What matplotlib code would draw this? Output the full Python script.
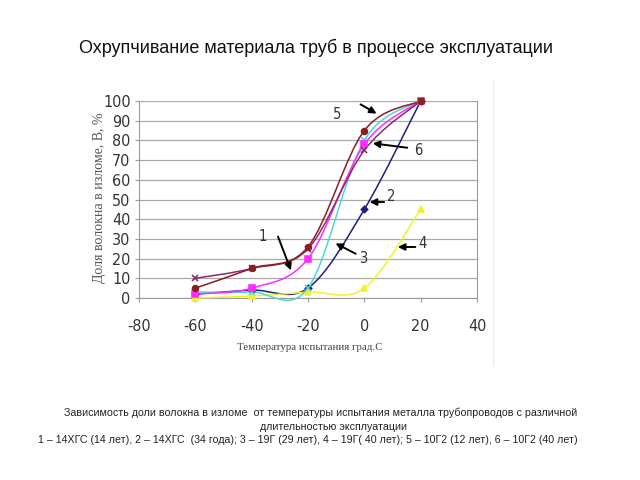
import matplotlib
matplotlib.use("Agg")
import matplotlib.pyplot as plt
from matplotlib.path import Path
from matplotlib.patches import PathPatch

plt.rcParams['axes.unicode_minus'] = False

temps = [-60, -40, -20, 0, 20]
s1 = [2, 5, 20, 78, 100]     # 14ХГС 14 лет, magenta
s2 = [2, 4, 5, 45, 100]      # 14ХГС 34 года, navy
s3 = [3, 3, 5, 80, 100]      # 19Г 29 лет, cyan
s4 = [0, 1, 3, 5, 45]        # 19Г 40 лет, yellow
s5 = [5, 15, 26, 85, 100]    # 10Г2 12 лет, dark red
s6 = [10, 15, 25, 75, 100]   # 10Г2 40 лет, purple

series = [
    (s2, '#1f1f7a', 'D', 3.2),
    (s4, '#f2f22a', '^', 4.2),
    (s3, '#4fd6d6', 'x', 4.2),
    (s1, '#ff2cff', 's', 4.2),
    (s6, '#8a2a6a', 'x', 4.6),
    (s5, '#8a1f1f', 'o', 4.2),
]

fig = plt.figure(figsize=(6.4, 4.8), dpi=100)
ax = fig.add_axes([139/640, 1-298/480, 338/640, 197/480])

def smooth_path(xs, ys):
    pts = list(zip(xs, ys))
    n = len(pts)
    verts = [pts[0]]
    codes = [Path.MOVETO]
    for i in range(n-1):
        p0 = pts[i-1] if i > 0 else pts[i]
        p1 = pts[i]
        p2 = pts[i+1]
        p3 = pts[i+2] if i+2 < n else pts[i+1]
        c1 = (p1[0] + (p2[0]-p0[0])/6, p1[1] + (p2[1]-p0[1])/6)
        c2 = (p2[0] - (p3[0]-p1[0])/6, p2[1] - (p3[1]-p1[1])/6)
        verts += [c1, c2, p2]
        codes += [Path.CURVE4]*3
    return Path(verts, codes)

for ys, col, mk, ms in series:
    ax.add_patch(PathPatch(smooth_path(temps, ys), facecolor='none', edgecolor=col, lw=1.1, zorder=3, clip_on=False))
    ax.plot(temps, ys, linestyle='none', marker=mk, color=col, ms=ms, mew=1.2, zorder=4, clip_on=False)

ax.set_xlim(-80, 40)
ax.set_ylim(0, 100)
ax.set_xticks(range(-80, 41, 20))
ax.set_yticks(range(0, 101, 10))
ax.yaxis.grid(True, color='#a8a8a8', lw=0.9)
ax.set_axisbelow(True)
for sp in ['left', 'bottom', 'right']:
    ax.spines[sp].set_color('#9a9a9a')
ax.spines['top'].set_visible(False)
ax.tick_params(axis='both', colors='#9a9a9a', length=3, width=0.8, labelcolor='#333333', labelsize=11.5)
for lab in ax.get_xticklabels() + ax.get_yticklabels():
    lab.set_fontfamily('DejaVu Sans')
    lab.set_fontstretch('condensed')
ax.tick_params(axis='x', pad=12)
ax.tick_params(axis='y', pad=3)

ax.set_ylabel('Доля волокна в изломе, В, %', family='Liberation Serif', fontsize=10, color='#555555', va='center')
ax.yaxis.set_label_coords((100-139)/338, (298-198)/197)
ax.set_xlabel('Температура испытания град.С', family='Liberation Serif', fontsize=7.8, color='#444444', va='center')
ax.xaxis.set_label_coords((310-139)/338, (298-347)/197)

# annotations
labels = [
    ('1', (-36.0, 31.0), (-31.0, 32.5), (-25.7, 12.7)),
    ('2', (9.5, 51.3), (8.0, 48.7), (0.9, 48.7)),
    ('3', (-0.5, 20.3), (-2.2, 21.8), (-11.1, 28.4)),
    ('4', (20.8, 27.9), (19.1, 25.9), (10.9, 25.9)),
    ('5', (-9.7, 92.9), (-2.2, 99.0), (5.2, 92.9)),
    ('6', (19.1, 75.1), (16.2, 76.1), (2.0, 78.7)),
]
for txt, pos, start, end in labels:
    ax.text(pos[0], pos[1], txt, fontsize=10.5, family='DejaVu Sans', fontstretch='condensed',
            color='#333333', ha='center', va='center', zorder=6)
    ax.annotate('', xy=end, xytext=start,
                arrowprops=dict(arrowstyle='-|>', color='black', lw=1.4, mutation_scale=10), zorder=6)

fig.add_artist(plt.Line2D([493/640, 493/640], [1-80/480, 1-365/480], color='#eeeeee', lw=1))

fig.text(316/640, 1-48/480, 'Охрупчивание материала труб в процессе эксплуатации',
         ha='center', va='center', fontsize=13, family='Liberation Sans', color='#111111')
fig.text(321/640, 1-413/480, 'Зависимость доли волокна в изломе  от температуры испытания металла трубопроводов с различной',
         ha='center', va='center', fontsize=7.7, family='Liberation Sans', color='#222222')
fig.text(333/640, 1-427/480, 'длительностью эксплуатации',
         ha='center', va='center', fontsize=7.7, family='Liberation Sans', color='#222222')
fig.text(308/640, 1-440/480, '1 – 14ХГС (14 лет), 2 – 14ХГС  (34 года); 3 – 19Г (29 лет), 4 – 19Г( 40 лет); 5 – 10Г2 (12 лет), 6 – 10Г2 (40 лет)',
         ha='center', va='center', fontsize=7.7, family='Liberation Sans', color='#222222')

fig.savefig('out.png', dpi=100)
